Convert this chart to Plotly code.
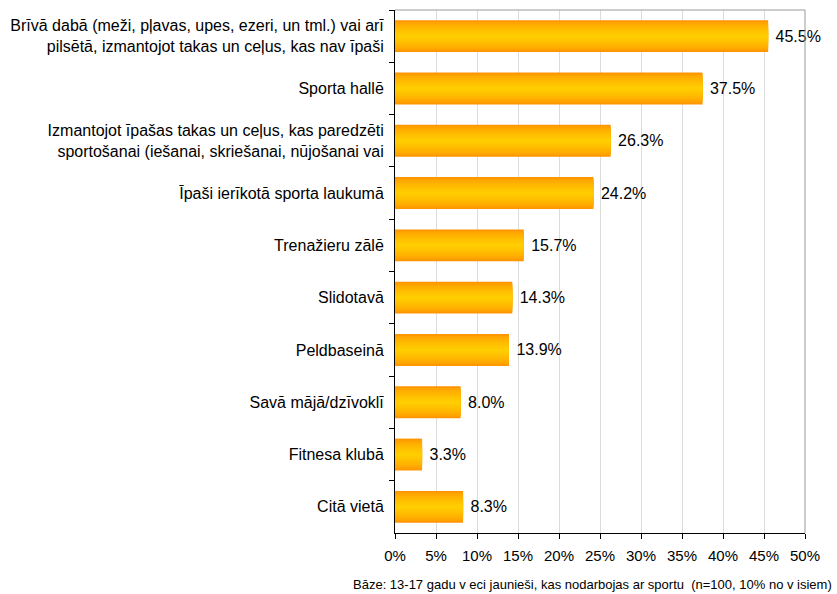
import plotly.graph_objects as go

# Survey: where young people do sport
categories = [
    "Brīvā dabā (meži, pļavas, upes, ezeri, un tml.) vai arī<br>pilsētā, izmantojot takas un ceļus, kas nav īpaši",
    "Sporta hallē",
    "Izmantojot īpašas takas un ceļus, kas paredzēti<br>sportošanai (iešanai, skriešanai, nūjošanai vai",
    "Īpaši ierīkotā sporta laukumā",
    "Trenažieru zālē",
    "Slidotavā",
    "Peldbaseinā",
    "Savā mājā/dzīvoklī",
    "Fitnesa klubā",
    "Citā vietā",
]
values = [45.5, 37.5, 26.3, 24.2, 15.7, 14.3, 13.9, 8.0, 3.3, 8.3]
x_ticks = [0, 5, 10, 15, 20, 25, 30, 35, 40, 45, 50]
footnote = "Bāze: 13-17 gadu v eci jaunieši, kas nodarbojas ar sportu  (n=100, 10% no v isiem)"

FONT = "Liberation Sans, Arial, sans-serif"

# Stacked bands of shrinking width give each bar an orange→yellow→orange shading
edge = (255, 150, 0)
centre = (255, 205, 0)
n_layers = 9
full_w = 0.61

fig = go.Figure()
for i in range(n_layers):
    t = i / (n_layers - 1)
    t = t ** 0.7
    col = tuple(round(edge[k] + (centre[k] - edge[k]) * t) for k in range(3))
    w = full_w * (1 - i / n_layers)
    fig.add_trace(go.Bar(
        x=values, y=categories, orientation="h", width=w,
        marker=dict(color="rgb(%d,%d,%d)" % col, line=dict(width=0)),
        text=[f" {v:.1f}%" for v in values] if i == 0 else None,
        textposition="outside" if i == 0 else "none",
        textfont=dict(family=FONT, size=16, color="#000"),
        cliponaxis=False, hoverinfo="skip", showlegend=False,
    ))

fig.update_layout(
    width=837, height=594,
    margin=dict(l=395, r=32, t=10, b=61),
    barmode="overlay",
    plot_bgcolor="white", paper_bgcolor="white",
    font=dict(family=FONT, size=16, color="#000"),
    xaxis=dict(
        range=[0, 50], tickvals=x_ticks, ticktext=[f"{v}%" for v in x_ticks],
        showgrid=True, gridcolor="#dcdcdc", gridwidth=1,
        showline=True, linecolor="#000", linewidth=1,
        ticks="outside", ticklen=5, tickcolor="#000",
        tickfont=dict(size=15), zeroline=False, ticklabelstandoff=4,
    ),
    yaxis=dict(
        autorange="reversed", showline=True, linecolor="#000", linewidth=1,
        ticks="outside", ticklen=5, tickcolor="#000", tickson="boundaries",
        showgrid=False, tickfont=dict(size=16), ticklabelstandoff=7,
    ),
    shapes=[
        dict(type="line", xref="x domain", yref="y domain", x0=0, x1=1, y0=1, y1=1,
             line=dict(color="#999", width=1)),
        dict(type="line", xref="x domain", yref="y domain", x0=1, x1=1, y0=0, y1=1,
             line=dict(color="#999", width=1)),
    ],
    annotations=[
        dict(text=footnote, xref="paper", yref="paper", x=1.07, y=0, xanchor="right",
             yanchor="top", yshift=-42, showarrow=False, font=dict(size=13)),
    ],
)

fig.write_html("out.html")
